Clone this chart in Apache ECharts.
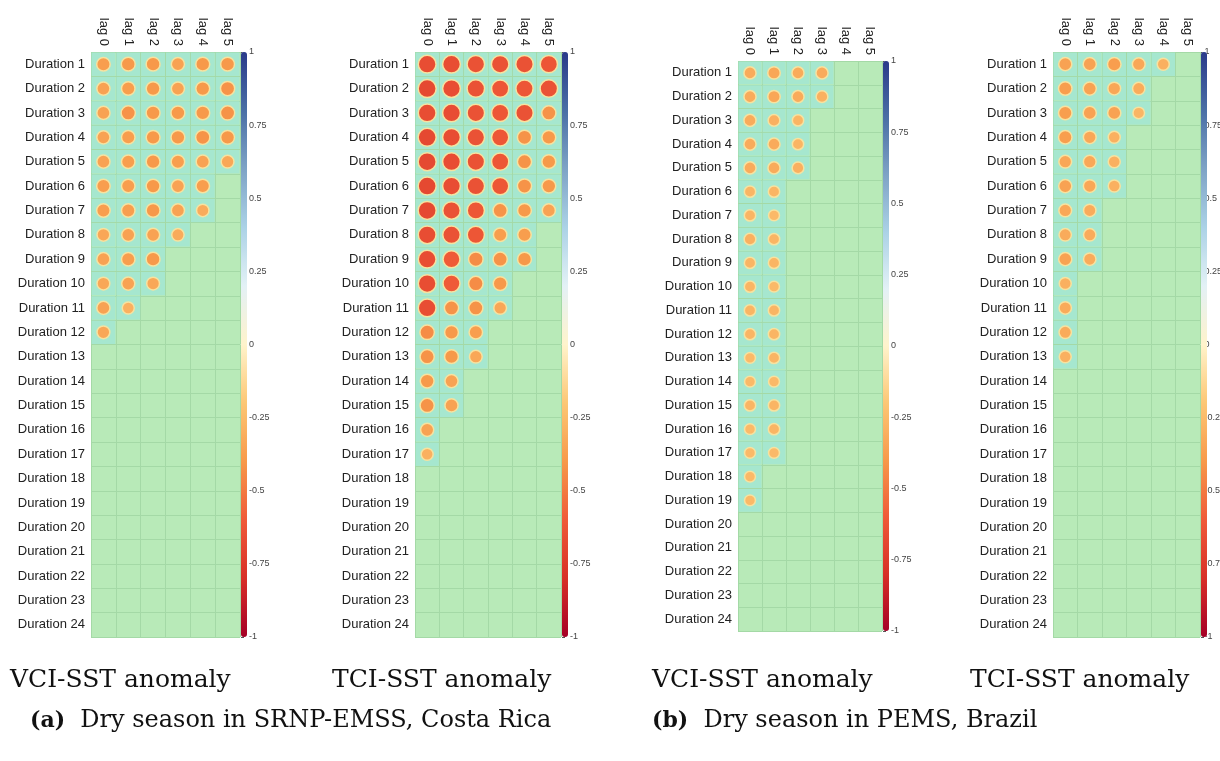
<!DOCTYPE html>
<html>
<head>
<meta charset="utf-8">
<title>Duration / lag correlation</title>
<script src="https://cdn.jsdelivr.net/npm/echarts@6/dist/echarts.min.js"></script>
<style>
    html, body { margin: 0; padding: 0; background: #fff; }
    #main { width: 1220px; height: 761px; }
</style>
</head>
<body>
<div id="main"></div>
<script>
    // categories
    var lags = ['lag 0', 'lag 1', 'lag 2', 'lag 3', 'lag 4', 'lag 5'];
    var durations = [];
    for (var d = 1; d <= 24; d++) {
        durations.push('Duration ' + d);
    }

    // significant correlations, one row per duration (missing = not significant)
    var vciA = [
        [-0.38, -0.40, -0.40, -0.36, -0.40, -0.40],
        [-0.36, -0.38, -0.40, -0.36, -0.40, -0.42],
        [-0.36, -0.42, -0.40, -0.40, -0.40, -0.42],
        [-0.36, -0.38, -0.40, -0.40, -0.42, -0.40],
        [-0.36, -0.38, -0.40, -0.38, -0.36, -0.34],
        [-0.38, -0.38, -0.40, -0.36, -0.38],
        [-0.38, -0.38, -0.40, -0.36, -0.32],
        [-0.34, -0.36, -0.36, -0.32],
        [-0.36, -0.38, -0.40],
        [-0.34, -0.36, -0.34],
        [-0.36, -0.30],
        [-0.34]
    ];
    var tciA = [
        [-0.66, -0.66, -0.64, -0.64, -0.64, -0.62],
        [-0.68, -0.66, -0.64, -0.62, -0.62, -0.64],
        [-0.66, -0.66, -0.64, -0.62, -0.64, -0.42],
        [-0.68, -0.66, -0.64, -0.62, -0.42, -0.40],
        [-0.68, -0.66, -0.64, -0.62, -0.42, -0.40],
        [-0.68, -0.66, -0.64, -0.62, -0.42, -0.40],
        [-0.68, -0.64, -0.62, -0.42, -0.40, -0.36],
        [-0.66, -0.64, -0.62, -0.38, -0.38],
        [-0.66, -0.60, -0.44, -0.42, -0.40],
        [-0.66, -0.60, -0.44, -0.40],
        [-0.66, -0.42, -0.42, -0.34],
        [-0.44, -0.40, -0.38],
        [-0.42, -0.40, -0.34],
        [-0.40, -0.36],
        [-0.42, -0.36],
        [-0.36],
        [-0.30]
    ];
    var vciB = [
        [-0.32, -0.34, -0.32, -0.32],
        [-0.32, -0.34, -0.32, -0.30],
        [-0.32, -0.30, -0.28],
        [-0.32, -0.32, -0.28],
        [-0.32, -0.32, -0.30],
        [-0.28, -0.28],
        [-0.28, -0.26],
        [-0.30, -0.28],
        [-0.28, -0.28],
        [-0.28, -0.26],
        [-0.28, -0.28],
        [-0.28, -0.28],
        [-0.26, -0.28],
        [-0.26, -0.26],
        [-0.28, -0.28],
        [-0.26, -0.28],
        [-0.26, -0.26],
        [-0.26],
        [-0.26]
    ];
    var tciB = [
        [-0.36, -0.36, -0.38, -0.34, -0.30],
        [-0.38, -0.36, -0.34, -0.32],
        [-0.38, -0.36, -0.36, -0.28],
        [-0.38, -0.34, -0.30],
        [-0.34, -0.34, -0.30],
        [-0.36, -0.34, -0.30],
        [-0.34, -0.32],
        [-0.32, -0.32],
        [-0.36, -0.32],
        [-0.30],
        [-0.32],
        [-0.32],
        [-0.30]
    ];

    // panel boxes (pixels)
    var panels = [
        { rows: vciA, left: 91,   top: 52, width: 149, height: 585 },
        { rows: tciA, left: 415,  top: 52, width: 146, height: 585 },
        { rows: vciB, left: 738,  top: 61, width: 144, height: 570 },
        { rows: tciB, left: 1053, top: 52, width: 147, height: 585 }
    ];

    // colour ramp from -1 (red) to 1 (blue)
    var ramp = ['#a50026', '#d73027', '#ef5a38', '#f7994a', '#fcc775', '#fff3cc',
                '#e3f1f6', '#abd2e6', '#7ea3c6', '#4a6fa5', '#2a3a8a'];

    var toPoints = function(rows) {
        var pts = [];
        for (var i = 0; i < rows.length; i++) {
            for (var j = 0; j < rows[i].length; j++) {
                if (rows[i][j] != null) {
                    pts.push([j, i, rows[i][j]]);
                }
            }
        }
        return pts;
    };

    var option = {
        backgroundColor: '#fff',
        animation: false,
        title: [],
        grid: [],
        xAxis: [],
        yAxis: [],
        visualMap: [],
        series: []
    };

    var labelFont = 'Liberation Sans, Arial, sans-serif';

    panels.forEach(function(p, k) {
        var cellW = p.width / lags.length;
        var cellH = p.height / durations.length;
        var pts = toPoints(p.rows);

        // main grid
        option.grid.push({
            left: p.left, top: p.top, width: p.width, height: p.height,
            show: true, backgroundColor: '#b8eab8', borderWidth: 0
        });
        option.xAxis.push({
            type: 'category', data: lags, gridIndex: 2 * k, position: 'top',
            axisLine: { show: false }, axisTick: { show: false },
            splitLine: { show: true, interval: 0, lineStyle: { color: '#a4d9a6', width: 1 } },
            axisLabel: { rotate: 90, interval: 0, margin: 6, fontSize: 13, color: '#222', fontFamily: labelFont }
        });
        option.yAxis.push({
            type: 'category', data: durations, gridIndex: 2 * k, inverse: true,
            axisLine: { show: false }, axisTick: { show: false },
            splitLine: { show: true, interval: 0, lineStyle: { color: '#a4d9a6', width: 1 } },
            axisLabel: { interval: 0, margin: 6, fontSize: 13, color: '#222', fontFamily: labelFont }
        });

        // colorbar axis next to the grid
        option.grid.push({
            left: p.left + p.width + 1, top: p.top, width: 6, height: p.height, show: false
        });
        option.xAxis.push({ type: 'value', gridIndex: 2 * k + 1, show: false, min: 0, max: 1 });
        option.yAxis.push({
            type: 'value', gridIndex: 2 * k + 1, position: 'right', min: -1, max: 1, interval: 0.25,
            axisLine: { show: false },
            axisTick: { show: true, length: 3, lineStyle: { color: '#555' } },
            splitLine: { show: false },
            axisLabel: { margin: 2, fontSize: 9, color: '#444', fontFamily: labelFont }
        });

        // cell tint behind significant circles
        option.series.push({
            type: 'scatter', xAxisIndex: 2 * k, yAxisIndex: 2 * k,
            data: pts, symbol: 'rect', symbolSize: [cellW - 1, cellH - 1],
            itemStyle: { color: '#a2e6d2', opacity: 0.85 }, silent: true, z: 1
        });
        // circles
        option.series.push({
            type: 'scatter', xAxisIndex: 2 * k, yAxisIndex: 2 * k,
            data: pts, z: 3,
            symbolSize: function(v) {
                return 0.9 * Math.sqrt(Math.abs(v[2])) * Math.min(cellW, cellH);
            },
            itemStyle: { borderColor: '#f6e2a0', borderWidth: 1.5, opacity: 1 }
        });
        option.visualMap.push({
            type: 'continuous', min: -1, max: 1, dimension: 2,
            seriesIndex: 2 * k + 1, calculable: false, text: null, showLabel: false,
            left: p.left + p.width + 1, top: p.top, padding: 0,
            itemWidth: 6, itemHeight: p.height,
            inRange: { color: ramp }
        });
    });

    // panel titles and captions
    var serif = 'DejaVu Serif, Liberation Serif, serif';
    var panelNames = ['VCI-SST anomaly', 'TCI-SST anomaly', 'VCI-SST anomaly', 'TCI-SST anomaly'];
    var panelNameX = [10, 332, 652, 970];
    panelNames.forEach(function(t, i) {
        option.title.push({
            text: t, left: panelNameX[i], top: 668, padding: 0,
            textStyle: { fontFamily: serif, fontWeight: 'normal', fontSize: 25, color: '#111' }
        });
    });
    var captions = [
        { tag: '(a)', text: 'Dry season in SRNP-EMSS, Costa Rica', x: 30 },
        { tag: '(b)', text: 'Dry season in PEMS, Brazil', x: 652 }
    ];
    captions.forEach(function(c) {
        option.title.push({
            text: '{b|' + c.tag + '}  ' + c.text, left: c.x, top: 709, padding: 0,
            textStyle: {
                fontFamily: serif, fontWeight: 'normal', fontSize: 24, color: '#111',
                rich: { b: { fontFamily: serif, fontWeight: 'bold', fontSize: 22, color: '#111' } }
            }
        });
    });

    var myChart = echarts.init(document.getElementById('main'));
    myChart.setOption(option);
</script>
</body>
</html>
